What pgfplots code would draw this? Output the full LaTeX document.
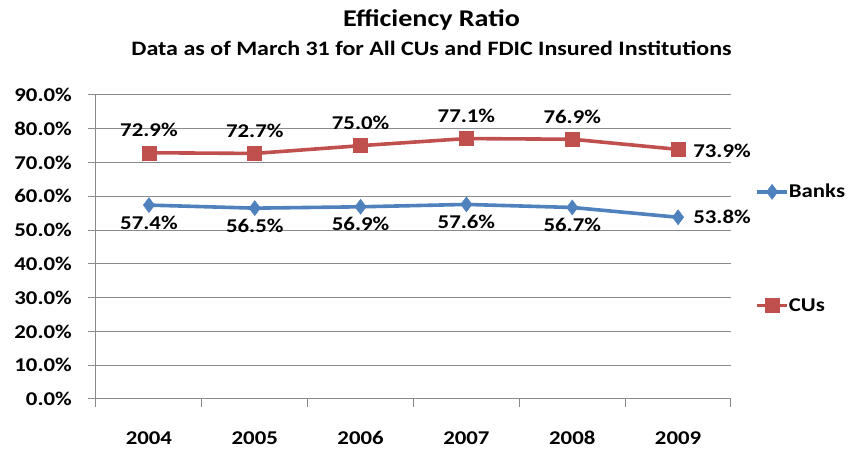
\documentclass[border=0pt]{standalone}
\usepackage{fontspec}
\setmainfont{Carlito}[FakeStretch=1.17]
\usepackage{pgfplots}
\pgfplotsset{compat=1.18}

\definecolor{banksblue}{HTML}{4F81BD}
\definecolor{cusred}{HTML}{C0504D}
\definecolor{gridgray}{HTML}{8A8A8A}

\pgfplotsset{
  pct/.style={
    point meta=y,
    nodes near coords={\pgfmathprintnumber[fixed,fixed zerofill,precision=1,assume math mode=true]{\pgfplotspointmeta}\%},
    every node near coord/.append style={font=\fontsize{19.5}{22}\selectfont\bfseries,
        text=black, inner sep=0pt},
  }
}

\begin{document}
\bfseries
\begin{tikzpicture}
\useasboundingbox (0,0) rectangle (849pt,454pt);

\node[anchor=base, inner sep=0pt, font=\fontsize{24}{27}\selectfont\bfseries] at (431.5pt,427pt) {Efficiency Ratio};
\node[anchor=base, inner sep=0pt, font=\fontsize{20.5}{23}\selectfont\bfseries] at (431.5pt,398pt) {Data as of March 31 for All CUs and FDIC Insured Institutions};

\begin{axis}[
    at={(96pt,55pt)},
    anchor=south west,
    scale only axis,
    width=635pt,
    height=304pt,
    axis lines*=left,
    axis line style={draw=gridgray, line width=1pt},
    xmin=-0.5, xmax=5.5,
    ymin=0, ymax=90,
    xtick={0,...,5},
    xticklabels={2004,2005,2006,2007,2008,2009},
    minor xtick={-0.5,0.5,...,5.5},
    ytick={0,10,...,90},
    yticklabel={\pgfmathprintnumber[fixed,fixed zerofill,precision=1,assume math mode=true]{\tick}\%},
    tick align=outside,
    major x tick style={draw=none},
    major tick length=8pt,
    minor tick length=8pt,
    tick style={draw=gridgray, line width=1pt},
    ymajorgrids,
    major grid style={draw=gridgray, line width=1pt},
    ticklabel style={font=\fontsize{19.5}{22}\selectfont\bfseries, inner sep=0pt},
    yticklabel style={anchor=east, xshift=-16pt},
    xticklabel style={anchor=base, yshift=-38pt},
    clip=false,
    legend style={at={(1.038,0.495)}, anchor=west, draw=none, fill=none,
        inner sep=0pt, row sep=99pt,
        font=\fontsize{19.5}{22}\selectfont\bfseries,
        nodes={inner sep=0pt}},
    legend cell align=left,
    /tikz/every even column/.append style={column sep=3pt},
    legend image code/.code={
        \draw[mark repeat=2, mark phase=2, #1] plot coordinates {(0pt,0pt) (15pt,0pt) (30pt,0pt)};
    },
]
\addplot[color=banksblue, line width=3.6pt, mark=diamond*, mark size=7.5pt,
    mark options={solid, line width=0.5pt, fill=banksblue}]
    coordinates {(0,57.4) (1,56.5) (2,56.9) (3,57.6) (4,56.7) (5,53.8)};
\addlegendentry{Banks}
\addplot[color=cusred, line width=3.6pt, mark=square*, mark size=7pt,
    mark options={solid, line width=0.5pt, fill=cusred}]
    coordinates {(0,72.9) (1,72.7) (2,75.0) (3,77.1) (4,76.9) (5,73.9)};
\addlegendentry{CUs}

% data labels
\addplot[draw=none, forget plot, pct, every node near coord/.append style={anchor=base, yshift=-24pt}]
    coordinates {(0,57.4) (1,56.5) (2,56.9) (3,57.6) (4,56.7)};
\addplot[draw=none, forget plot, pct, every node near coord/.append style={anchor=west, xshift=15pt}]
    coordinates {(5,53.8)};
\addplot[draw=none, forget plot, pct, every node near coord/.append style={anchor=base, yshift=16pt}]
    coordinates {(0,72.9) (1,72.7) (2,75.0) (3,77.1) (4,76.9)};
\addplot[draw=none, forget plot, pct, every node near coord/.append style={anchor=west, xshift=15pt, yshift=-1pt}]
    coordinates {(5,73.9)};
\end{axis}
\end{tikzpicture}
\end{document}
